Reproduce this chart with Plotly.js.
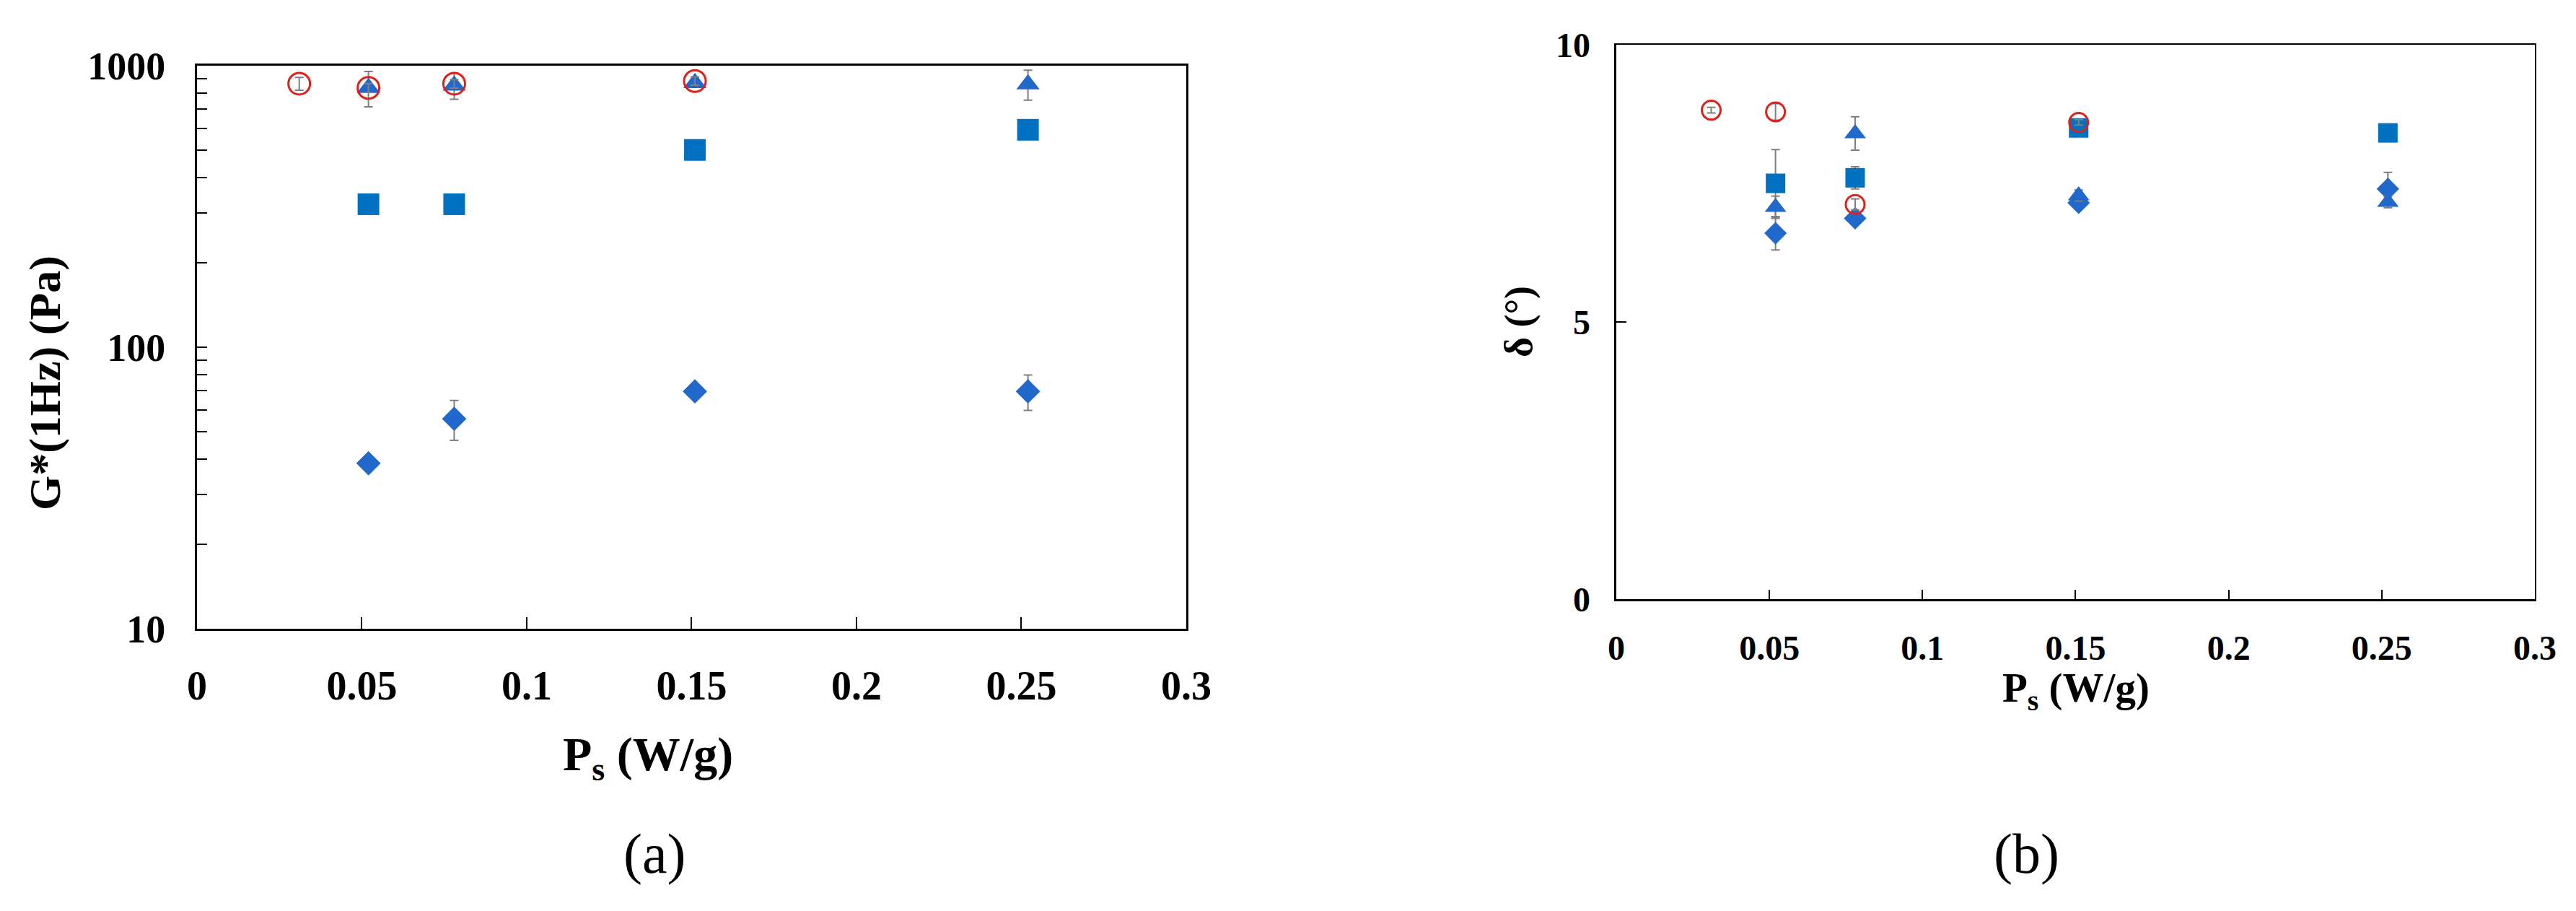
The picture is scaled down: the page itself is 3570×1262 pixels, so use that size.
<!DOCTYPE html>
<html>
<head>
<meta charset="utf-8">
<script src="https://cdn.plot.ly/plotly-3.0.1.min.js"></script>
<style>
  html, body { margin: 0; padding: 0; background: #fff; }
  #chart { width: 3570px; height: 1262px; }
</style>
</head>
<body>
<div id="chart"></div>
<script>
// ---- data -------------------------------------------------------------------
// (a) G*(1 Hz) in Pa, log axis
const G_CIRCLE_X = [0.031, 0.052, 0.078, 0.151];
const G_CIRCLE_Y = [863, 834, 863, 882];
const G_CIRCLE_E = [45, 30, 30, 30];

const G_TRI_X = [0.052, 0.078, 0.151, 0.252];
const G_TRI_Y = [834, 850, 868, 859];
const G_TRI_E = [120, 90, 30, 105];

const G_SQ_X = [0.052, 0.078, 0.151, 0.252];
const G_SQ_Y = [322, 322, 502, 592];
const G_SQ_E = [10, 10, 10, 10];

const G_DIA_X = [0.052, 0.078, 0.151, 0.252];
const G_DIA_Y = [38.7, 55.7, 69.7, 69.7];
const G_DIA_E = [2, 9, 2, 10];

// (b) phase angle δ in degrees
const D_CIRCLE_X = [0.031, 0.052, 0.078, 0.151];
const D_CIRCLE_Y = [8.82, 8.79, 7.12, 8.6];
const D_CIRCLE_E = [0.05, 0.15, 0.1, 0.05];

const D_TRI_X = [0.052, 0.078, 0.151, 0.252];
const D_TRI_Y = [7.07, 8.4, 7.28, 7.16];
const D_TRI_E = [0.2, 0.3, 0.1, 0.1];

const D_SQ_X = [0.052, 0.078, 0.151, 0.252];
const D_SQ_Y = [7.5, 7.6, 8.5, 8.41];
const D_SQ_E = [0.61, 0.2, 0.05, 0.05];

const D_DIA_X = [0.052, 0.078, 0.151, 0.252];
const D_DIA_Y = [6.6, 6.87, 7.15, 7.4];
const D_DIA_E = [0.3, 0.1, 0.1, 0.3];

const X_TICKS = [0, 0.05, 0.1, 0.15, 0.2, 0.25, 0.3];
const X_TICKTEXT = ['0', '0.05', '0.1', '0.15', '0.2', '0.25', '0.3'];
const G_TICKS = [10, 100, 1000];
const G_MINOR = [20, 30, 40, 50, 60, 70, 80, 90, 200, 300, 400, 500, 600, 700, 800, 900];
const D_TICKS = [0, 5, 10];

// ---- styling ----------------------------------------------------------------
const SERIF = '"Liberation Serif", "Times New Roman", serif';
const BLUE_SQ = '#0070C0', BLUE = '#2068CC', RED = '#E0201B', ERR = '#7f7f7f';

function series(x, y, e, sym, size, xa, ya) {
  const open = sym === 'circle-open';
  return {
    type: 'scatter', mode: 'markers', x, y, xaxis: xa, yaxis: ya,
    error_y: { type: 'data', array: e, visible: true, color: ERR, thickness: 2, width: 6 },
    marker: open
      ? { symbol: 'circle-open', size, color: RED, line: { color: RED, width: 3 } }
      : { symbol: sym, size, color: sym === 'square' ? BLUE_SQ : BLUE, line: { width: 0 } },
    hoverinfo: 'x+y', showlegend: false,
  };
}

const traces = [
  series(G_SQ_X, G_SQ_Y, G_SQ_E, 'square', 30, 'x', 'y'),
  series(G_DIA_X, G_DIA_Y, G_DIA_E, 'diamond', 26, 'x', 'y'),
  series(G_TRI_X, G_TRI_Y, G_TRI_E, 'triangle-up', 28, 'x', 'y'),
  series(G_CIRCLE_X, G_CIRCLE_Y, G_CIRCLE_E, 'circle-open', 30, 'x', 'y'),
  series(D_SQ_X, D_SQ_Y, D_SQ_E, 'square', 27, 'x2', 'y2'),
  series(D_DIA_X, D_DIA_Y, D_DIA_E, 'diamond', 24, 'x2', 'y2'),
  series(D_TRI_X, D_TRI_Y, D_TRI_E, 'triangle-up', 26, 'x2', 'y2'),
  series(D_CIRCLE_X, D_CIRCLE_Y, D_CIRCLE_E, 'circle-open', 26, 'x2', 'y2'),
];

function xax(domain, anchor, fs, lw, tl, standoff) {
  return {
    domain, anchor, range: [0, 0.3], tickvals: X_TICKS, ticktext: X_TICKTEXT,
    ticks: 'inside', ticklen: tl, tickwidth: 2, tickcolor: '#000',
    showline: true, linecolor: '#000', linewidth: lw, mirror: true,
    showgrid: false, zeroline: false, ticklabelstandoff: standoff,
    tickfont: { family: SERIF, size: fs, color: '#000', weight: 'bold' },
  };
}

const layout = {
  width: 3570, height: 1262,
  margin: { l: 0, r: 0, t: 0, b: 0 },
  paper_bgcolor: '#fff', plot_bgcolor: '#fff',
  xaxis: xax([0.07647, 0.46050], 'y', 56, 3, 16, 28),
  yaxis: {
    domain: [0.3098, 0.9279], anchor: 'x', type: 'log', range: [1, 3],
    tickvals: G_TICKS, ticktext: ['10', '100', '1000'],
    ticks: 'inside', ticklen: 14, tickwidth: 2, tickcolor: '#000',
    minor: { tickvals: G_MINOR, ticks: 'inside', ticklen: 14, tickwidth: 2, tickcolor: '#000', showgrid: false },
    showline: true, linecolor: '#000', linewidth: 3, mirror: true,
    showgrid: false, zeroline: false, ticklabelstandoff: 30,
    tickfont: { family: SERIF, size: 54, color: '#000', weight: 'bold' },
  },
  xaxis2: xax([0.62745, 0.98403], 'y2', 48, 2.5, 13, 24),
  yaxis2: {
    domain: [0.34231, 0.95087], anchor: 'x2', range: [0, 10],
    tickvals: D_TICKS, ticks: 'inside', ticklen: 14, tickwidth: 2, tickcolor: '#000',
    showline: true, linecolor: '#000', linewidth: 2.5, mirror: true,
    showgrid: false, zeroline: false, ticklabelstandoff: 24,
    tickfont: { family: SERIF, size: 48, color: '#000', weight: 'bold' },
  },
  annotations: [
    { text: 'G*(1Hz) (Pa)', xref: 'paper', yref: 'paper', x: 62 / 3570, y: 1 - 531 / 1262,
      textangle: -90, showarrow: false, xanchor: 'center', yanchor: 'middle',
      font: { family: SERIF, size: 62, color: '#000', weight: 'bold' } },
    { text: 'P<sub>s</sub> (W/g)', xref: 'paper', yref: 'paper', x: 898 / 3570, y: 1 - 1049 / 1262,
      showarrow: false, xanchor: 'center', yanchor: 'middle',
      font: { family: SERIF, size: 66, color: '#000', weight: 'bold' } },
    { text: '(a)', xref: 'paper', yref: 'paper', x: 907 / 3570, y: 1 - 1182 / 1262,
      showarrow: false, xanchor: 'center', yanchor: 'middle',
      font: { family: SERIF, size: 78, color: '#000' } },
    { text: 'δ (°)', xref: 'paper', yref: 'paper', x: 2105 / 3570, y: 1 - 446 / 1262,
      textangle: -90, showarrow: false, xanchor: 'center', yanchor: 'middle',
      font: { family: SERIF, size: 54, color: '#000', weight: 'bold' } },
    { text: 'P<sub>s</sub> (W/g)', xref: 'paper', yref: 'paper', x: 2877 / 3570, y: 1 - 957 / 1262,
      showarrow: false, xanchor: 'center', yanchor: 'middle',
      font: { family: SERIF, size: 57, color: '#000', weight: 'bold' } },
    { text: '(b)', xref: 'paper', yref: 'paper', x: 2808 / 3570, y: 1 - 1182 / 1262,
      showarrow: false, xanchor: 'center', yanchor: 'middle',
      font: { family: SERIF, size: 78, color: '#000' } },
  ],
};

Plotly.newPlot('chart', traces, layout, { staticPlot: true, displayModeBar: false });
</script>
</body>
</html>
